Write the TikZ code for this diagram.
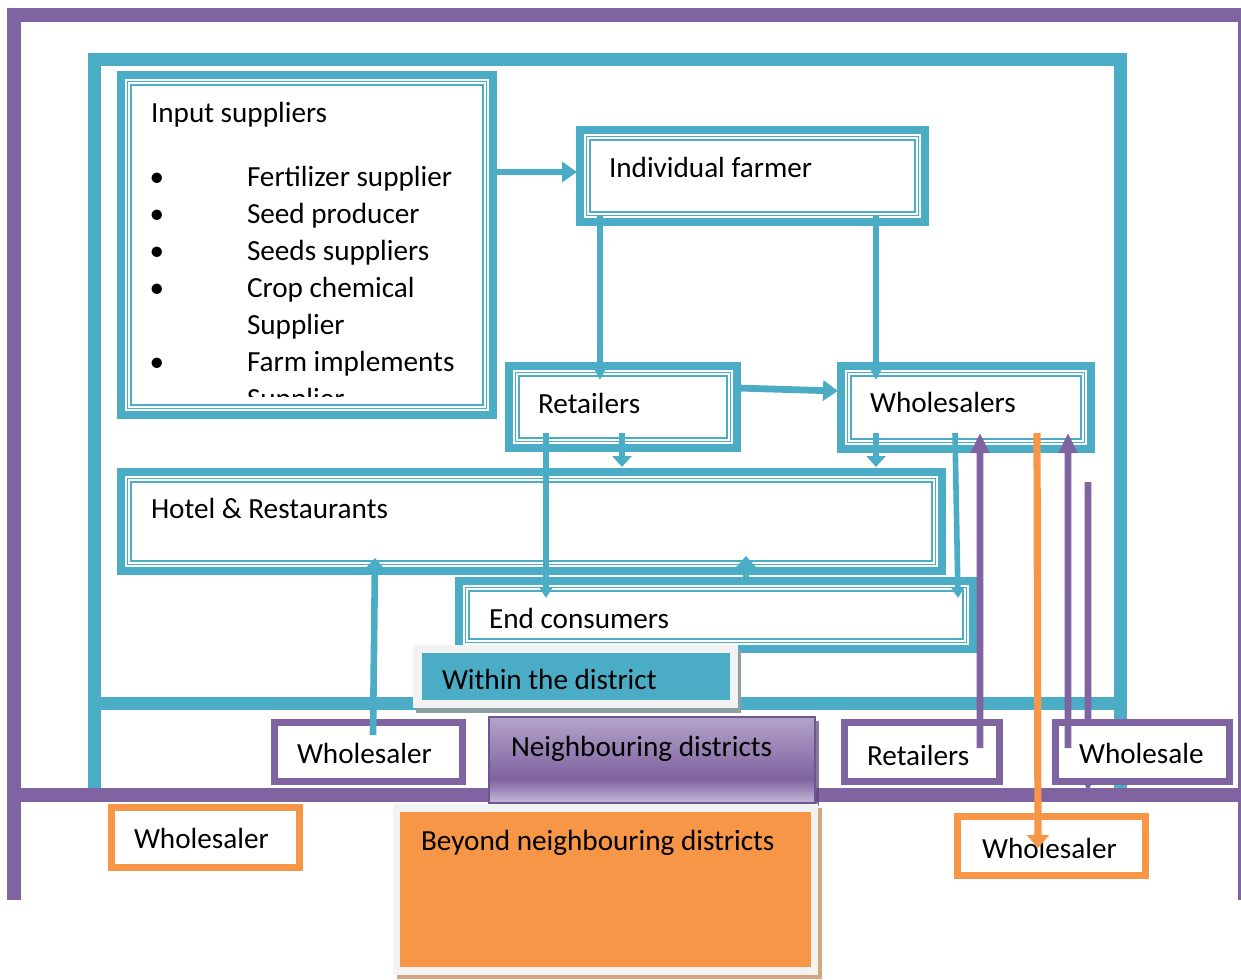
\documentclass[tikz,border=0pt]{standalone}
\usepackage{fontspec}
\setmainfont{Carlito}
\usetikzlibrary{arrows.meta,fit}

\definecolor{aqua}{HTML}{4BACC6}
\definecolor{plum}{HTML}{8064A2}
\definecolor{tang}{HTML}{F79646}
\definecolor{paper}{HTML}{F2F2F2}
\definecolor{nblight}{HTML}{B4A4C9}
\definecolor{nbdark}{HTML}{7E62A0}
\definecolor{nbpale}{HTML}{C6BAD9}
\definecolor{nbedge}{HTML}{6F5592}
\definecolor{tanshadow}{HTML}{D3A67E}
\definecolor{greyshadow}{HTML}{8E9FA4}

% purple gradient of the "Neighbouring districts" tab (bottom -> top)
\pgfdeclareverticalshading{nbshade}{100bp}{color(0bp)=(nbpale); color(25bp)=(nbpale);
  color(39bp)=(nbdark); color(75bp)=(nblight); color(100bp)=(nblight)}

\pgfdeclarelayer{frames}
\pgfdeclarelayer{behind}
\pgfsetlayers{frames,behind,main}

\begin{document}
\begin{tikzpicture}[x=0.5pt, y=-0.5pt,
  font=\fontsize{14.6}{17}\selectfont,
  ttbox/.style={draw=aqua, line width=4pt, fill=white, inner sep=0pt, outer sep=0pt},
  pbox/.style={draw=plum, line width=3.35pt, fill=white, inner sep=0pt, outer sep=0pt},
  obox/.style={draw=tang, line width=3.35pt, fill=white, inner sep=0pt, outer sep=0pt},
  flat/.style={inner sep=0pt, outer sep=0pt},
  lbl/.style={anchor=base west, inner sep=0pt, outer sep=0pt},
  dot/.style={anchor=base, inner sep=0pt, outer sep=0pt},
  carrH/.style={draw=aqua, line width=3.4pt, -{Triangle[length=7.5pt,width=10pt]}},
  carrV/.style={draw=aqua, line width=3.3pt, -{Triangle[length=6.5pt,width=6.5pt]}},
  carrD/.style={draw=aqua, line width=3.3pt, -{Triangle[length=5.5pt,width=9.5pt]}},
  carrE/.style={draw=aqua, line width=2.8pt, -{Triangle[length=5pt,width=6pt]}},
  parr/.style={draw=plum, line width=3.3pt, -{Triangle[length=10pt,width=9pt]}},
  oarr/.style={draw=tang, line width=3.6pt, -{Triangle[length=6.5pt,width=11pt]}}]

\useasboundingbox (0,0) rectangle (1241,979);
\clip (0,0) rectangle (1241,979);

% district frames
\begin{pgfonlayer}{frames}
  \fill[white] (0,0) rectangle (1241,979);
  \draw[aqua, line width=6.5pt, line join=miter] (94,789) -- (94,60) -- (1120,60) -- (1120,789);
  \draw[aqua, line width=6.5pt] (94,703) -- (1120,703);
  \draw[plum, line width=7pt, line join=miter] (14,900) -- (14,15) -- (1245,15) -- (1245,900);
  \draw[plum, line width=7pt] (7,795) -- (1241,795);
\end{pgfonlayer}

% actors within the district
\node[ttbox, fit={(121,75) (493,415)}] (inp) {};
\node[ttbox, fit={(580,130) (925,222)}] (farm) {};
\node[ttbox, fit={(509,366) (737,448)}] (ret) {};
\node[ttbox, fit={(841,366) (1091,449)}] (whs) {};
\node[ttbox, fit={(121,472) (942,571)}] (hot) {};
\node[ttbox, fit={(459,581) (973,649)}] (endc) {};
\foreach \n in {inp,farm,ret,whs,hot,endc}{
  \draw[aqua, line width=0.9pt] ([shift={(6.5,6.5)}]\n.north west) rectangle ([shift={(-6.5,-6.5)}]\n.south east);
  \draw[aqua, line width=0.8pt] ([shift={(10,10)}]\n.north west) rectangle ([shift={(-10,-10)}]\n.south east);
}

% actors in neighbouring districts and beyond
\node[pbox, fit={(274.3,722.3) (462.7,781.7)}] (wsp) {};
\node[pbox, fit={(844.3,722.3) (999.7,781.7)}] (retp) {};
\node[pbox, fit={(1055.3,722.3) (1229.7,781.7)}] (wsale) {};
\node[obox, fit={(111.3,807.3) (299.7,867.7)}] (wol) {};
\node[obox, fit={(957.3,816.3) (1145.7,875.7)}] (wso) {};

% supply line running behind the "Wholesale" box
\coordinate (mstart) at (1088,482);
\begin{pgfonlayer}{behind}
  \draw[parr] (mstart) -- ([shift={(32.7,10)}]wsale.south west);
\end{pgfonlayer}

% texts
\node[lbl] (tinp) at (151,123) {Input suppliers};
\foreach \yy/\name in {186/b1,223/b2,260/b3,297/b4,371/b5}{
  \node[dot] (\name) at (157,\yy) {•};
}
\node[lbl] (i1) at (247,186) {Fertilizer supplier};
\node[lbl] (i2) at (247,223) {Seed producer};
\node[lbl] (i3) at (247,260) {Seeds suppliers};
\node[lbl] (i4) at (247,297) {Crop chemical};
\node[lbl] (i5) at (247,334) {Supplier};
\node[lbl] (i6) at (247,371) {Farm implements};
\begin{scope}
  \clip (130,84) rectangle (484,396);
  \node[lbl] (i7) at (247,408) {Supplier};
\end{scope}
\node[lbl] (tfarm) at (609,177) {Individual farmer};
\node[lbl] (tret) at (538,413) {Retailers};
\node[lbl] (twhs) at (870,412) {Wholesalers};
\node[lbl] (thot) at (151,518) {Hotel \& Restaurants};
\node[lbl] (tendc) at (489,628) {End consumers};
\node[lbl] (twsp) at (297,763) {Wholesaler};
\node[lbl] (twol) at (134,848) {Wholesaler};
\node[lbl] (tretp) at (867,765) {Retailers};
\node[lbl] (twsale) at (1079,763) {Wholesale};
\node[lbl] (twso) at (982,858) {Wholesaler};

% flows
\draw[carrH] ([shift={(0,97)}]inp.north east) -- ([shift={(-3,42)}]farm.north west);
\draw[carrV] ([shift={(20,-7)}]farm.south west) -- ([shift={(91,14)}]ret.north west);
\draw[carrV] ([shift={(296,-7)}]farm.south west) -- ([shift={(35,14)}]whs.north west);
\draw[carrH] ([shift={(0,22)}]ret.north east) -- ([shift={(-3,25)}]whs.north west);
\draw[carrD] ([shift={(113,-15)}]ret.south west) -- ([shift={(501,-5)}]hot.north west);
\draw[carrD] ([shift={(35,-16)}]whs.south west) -- ([shift={(755,-5)}]hot.north west);
\draw[carrE] ([shift={(37,-15)}]ret.south west) -- ([shift={(87,17)}]endc.north west);
\draw[carrE] ([shift={(114,-16)}]whs.south west) -- ([shift={(-15,17)}]endc.north east);
\draw[carrD] ([shift={(287,0)}]endc.north west) -- ([shift={(625,-15)}]hot.south west);
\draw[carrD] ([shift={(98.7,12.7)}]wsp.north west) -- ([shift={(254,-13)}]hot.south west);
\draw[parr] ([shift={(135.7,25.7)}]retp.north west) -- ([shift={(139,-16)}]whs.south west);
\draw[parr] ([shift={(12.7,25.7)}]wsale.north west) -- ([shift={(227,-16)}]whs.south west);
\draw[oarr] ([shift={(196,-16)}]whs.south west) -- ([shift={(80.7,31.7)}]wso.north west);

% region labels
\fill[greyshadow] (416,650) rectangle (741,713);
\node[flat, fill=paper, fit={(413,645) (738,708)}] (within) {};
\node[flat, fill=aqua, fit={(422,653) (730,700)}] (withinfill) {};
\node[lbl] (twithin) at (442,689) {Within the district};

\fill[nbedge!80!black, opacity=0.7] (492,721) rectangle (819,806);
\node[flat, shade, shading=nbshade, draw=nbedge, line width=0.7pt, fit={(489,717) (815,803)}] (nb) {};
\node[lbl] (tnb) at (511,756) {Neighbouring districts};

\fill[tanshadow] (397,808) rectangle (822,979);
\node[flat, fill=paper, fit={(393,804) (818,975)}] (beyond) {};
\node[flat, fill=tang, fit={(400,812) (811,967)}] (beyondfill) {};
\node[lbl] (tbey) at (421,850) {Beyond neighbouring districts};

\end{tikzpicture}
\end{document}
